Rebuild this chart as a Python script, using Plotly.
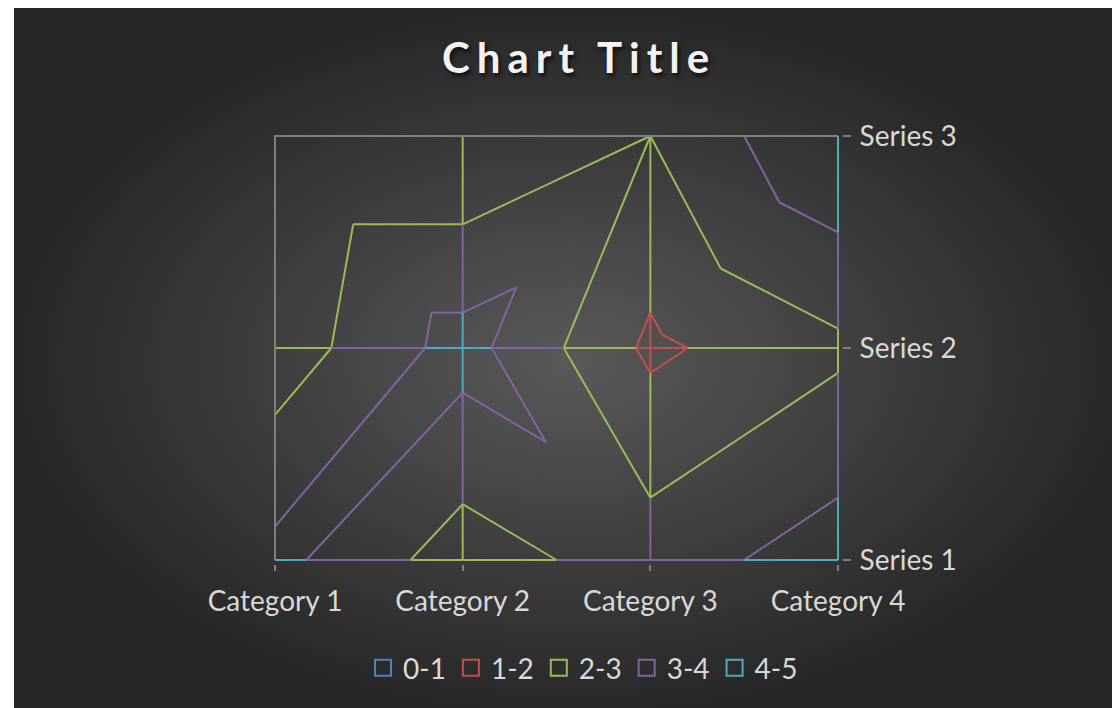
import plotly.graph_objects as go

# ---------------- data ----------------
categories = ["Category 1", "Category 2", "Category 3", "Category 4"]
series_names = ["Series 1", "Series 2", "Series 3"]
series1 = [4.3, 2.5, 3.5, 4.5]
series2 = [2.4, 4.4, 1.8, 2.8]
series3 = [2.0, 2.0, 3.0, 5.0]
band_labels = ["0-1", "1-2", "2-3", "3-4", "4-5"]
band_edges = [0, 1, 2, 3, 4, 5]

# ---------------- style ----------------
band_colors = ["#4F81BD", "#C0504D", "#9BBB59", "#8064A2", "#4BACC6"]
frame_color = "#7F7F7F"
text_color = "#D9D9D9"
FONT = "Lato"
W, H = 1120, 708

Z = [series1, series2, series3]          # Z[row(series)][col(category)]
xs = list(range(1, len(categories) + 1))
ys = list(range(1, len(series_names) + 1))

segs = {k: ([], []) for k in range(len(band_labels))}


def band_of(v):
    for k in range(len(band_edges) - 1):
        if band_edges[k] <= v < band_edges[k + 1]:
            return k
    return len(band_edges) - 2


def lerp(p, q, t):
    return (p[0] + (q[0] - p[0]) * t, p[1] + (q[1] - p[1]) * t)


def add_seg(k, p, q):
    segs[k][0].extend([p[0], q[0], None])
    segs[k][1].extend([p[1], q[1], None])


def grid_line(p0, p1, v0, v1):
    ts = []
    if v1 != v0:
        lo, hi = min(v0, v1), max(v0, v1)
        ts = sorted((L - v0) / (v1 - v0) for L in band_edges if lo < L < hi)
    ts = [0.0] + ts + [1.0]
    for a, b in zip(ts[:-1], ts[1:]):
        vm = v0 + (a + b) / 2 * (v1 - v0)
        add_seg(band_of(vm), lerp(p0, p1, a), lerp(p0, p1, b))


def tri_contour(P, V, L):
    pts = []
    for a in range(3):
        b = (a + 1) % 3
        va, vb = V[a] - L, V[b] - L
        if va == 0:
            pts.append(P[a])
        elif va * vb < 0:
            pts.append(lerp(P[a], P[b], va / (va - vb)))
    if len(pts) == 2 and sum(1 for v in V if v == L) < 2:
        add_seg(band_edges.index(L) - 1, pts[0], pts[1])


# wireframe grid lines coloured by band
for j, yv in enumerate(ys):
    for i in range(len(xs) - 1):
        grid_line((xs[i], yv), (xs[i + 1], yv), Z[j][i], Z[j][i + 1])
for i, xv in enumerate(xs):
    for j in range(len(ys) - 1):
        grid_line((xv, ys[j]), (xv, ys[j + 1]), Z[j][i], Z[j + 1][i])

# contour lines through triangulated cells
for j in range(len(ys) - 1):
    for i in range(len(xs) - 1):
        BL, BR = (xs[i], ys[j]), (xs[i + 1], ys[j])
        TL, TR = (xs[i], ys[j + 1]), (xs[i + 1], ys[j + 1])
        vBL, vBR, vTL, vTR = Z[j][i], Z[j][i + 1], Z[j + 1][i], Z[j + 1][i + 1]
        if vBR + vTL > vBL + vTR:
            tris = [((BL, BR, TL), (vBL, vBR, vTL)), ((BR, TR, TL), (vBR, vTR, vTL))]
        else:
            tris = [((BL, BR, TR), (vBL, vBR, vTR)), ((BL, TR, TL), (vBL, vTR, vTL))]
        for P, V in tris:
            for L in band_edges[1:]:
                tri_contour(P, V, L)

fig = go.Figure()

# background (chart area) with radial gradient
fig.add_trace(go.Scatter(
    x=[6, W, W, 6, 6], y=[0, 0, H, H, 0],
    mode="lines", fill="toself", line=dict(width=0),
    fillgradient=dict(type="radial", colorscale=[[0, "#595959"], [1, "#272727"]]),
    hoverinfo="skip", showlegend=False, xaxis="x", yaxis="y"))

for k in range(len(band_labels)):
    if segs[k][0]:
        fig.add_trace(go.Scatter(
            x=segs[k][0], y=segs[k][1], mode="lines",
            line=dict(color=band_colors[k], width=2),
            hoverinfo="skip", showlegend=False, legendgroup=band_labels[k],
            xaxis="x2", yaxis="y2"))

# gray frame (left and top edges)
fig.add_trace(go.Scatter(
    x=[xs[0], xs[0], xs[-1]], y=[ys[0], ys[-1], ys[-1]], mode="lines",
    line=dict(color=frame_color, width=2), hoverinfo="skip", showlegend=False,
    xaxis="x2", yaxis="y2"))

# legend entries
for k, lab in enumerate(band_labels):
    fig.add_trace(go.Scatter(
        x=[None], y=[None], mode="markers", name=lab, legendgroup=lab,
        marker=dict(symbol="square-open", size=16, color=band_colors[k],
                    line=dict(width=2, color=band_colors[k])),
        xaxis="x2", yaxis="y2"))

# plot-area geometry in figure pixels
X0, X1 = 267, 830      # first / last category
Y0, Y1 = 552, 128      # first / last series (from top)
pad = 4
ux = (X1 - X0) / (len(xs) - 1)
uy = (Y0 - Y1) / (len(ys) - 1)

fig.update_layout(
    width=W, height=H,
    margin=dict(l=0, r=0, t=0, b=0, autoexpand=False),
    paper_bgcolor="white", plot_bgcolor="rgba(0,0,0,0)",
    xaxis=dict(domain=[0, 1], range=[0, W], visible=False, fixedrange=True),
    yaxis=dict(domain=[0, 1], range=[0, H], visible=False, fixedrange=True),
    xaxis2=dict(
        domain=[(X0 - pad) / W, (X1 + pad) / W],
        range=[xs[0] - pad / ux, xs[-1] + pad / ux],
        anchor="y2", showgrid=False, zeroline=False, showline=False,
        tickmode="array", tickvals=xs, ticktext=categories,
        ticks="outside", ticklen=6, tickwidth=2, tickcolor=frame_color,
        tickfont=dict(family=FONT, size=28, color=text_color),
        ticklabelstandoff=6, automargin=False),
    yaxis2=dict(
        domain=[(H - Y0 - pad) / H, (H - Y1 + pad) / H],
        range=[ys[0] - pad / uy, ys[-1] + pad / uy],
        anchor="x2", side="right", showgrid=False, zeroline=False, showline=False,
        tickmode="array", tickvals=ys, ticktext=series_names,
        ticks="outside", ticklen=8, tickwidth=2, tickcolor=frame_color,
        tickfont=dict(family=FONT, size=28, color=text_color),
        ticklabelstandoff=3, automargin=False),
    legend=dict(
        orientation="h", x=575 / W, xanchor="center", y=1 - 660 / H, yanchor="middle",
        font=dict(family=FONT, size=28, color=text_color),
        bgcolor="rgba(0,0,0,0)", itemclick=False, itemdoubleclick=False),
    annotations=[dict(
        text='<span style="letter-spacing:7px">Chart Title</span>',
        xref="paper", yref="paper",
        x=571 / W, y=1 - 49 / H, xanchor="center", yanchor="middle",
        showarrow=False,
        font=dict(family=FONT, size=42, color="#F2F2F2", weight="bold",
                  shadow="2px 3px 4px rgba(0,0,0,0.7)"))],
    showlegend=True,
)

fig.write_html("out.html")
